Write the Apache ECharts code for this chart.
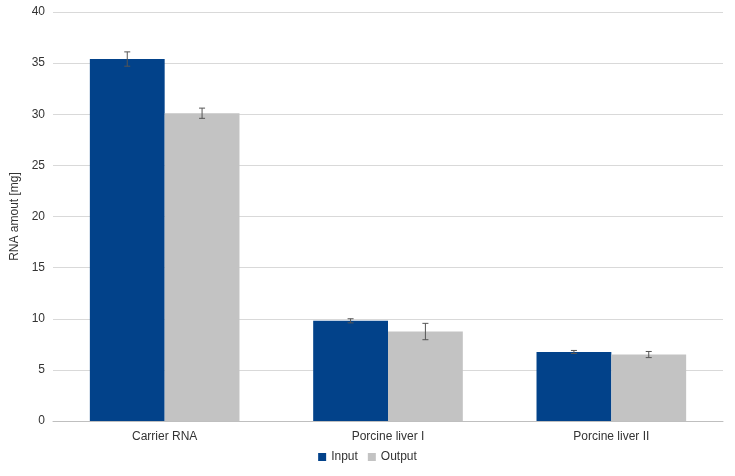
<!DOCTYPE html>
<html>
<head>
<meta charset="utf-8">
<script src="https://cdn.jsdelivr.net/npm/echarts@6/dist/echarts.min.js"></script>
<style>
    html,body{margin:0;padding:0;background:#fff;}
    #chart{width:735px;height:476px;}
</style>
</head>
<body>
<div id="chart"></div>
<script>
    var categories = ['Carrier RNA', 'Porcine liver I', 'Porcine liver II'];
    var input_values = [35.4, 9.8, 6.75];
    var output_values = [30.1, 8.75, 6.5];
    var input_err = [0.7, 0.2, 0.15];
    var output_err = [0.5, 0.8, 0.3];
    var colors = ['#02428a', '#c3c3c3'];
    var cat_gap = 0.33;

    function error_series(values, errs, side) {//side: -1 left bar, 1 right bar
        var data = values.map(function (v, i) { return [i, v - errs[i], v + errs[i]]; });
        return {
            type: 'custom',
            silent: true,
            z: 10,
            data: data,
            renderItem: function (params, api) {
                var bw = api.size([1, 0])[0] * (1 - cat_gap) / 2;
                var lo = api.coord([api.value(0), api.value(1)]);
                var hi = api.coord([api.value(0), api.value(2)]);
                var x = lo[0] + side * bw / 2;
                var style = { stroke: '#555', lineWidth: 1 };
                return {
                    type: 'group',
                    children: [
                        { type: 'line', shape: { x1: x, y1: lo[1], x2: x, y2: hi[1] }, style: style },
                        { type: 'line', shape: { x1: x - 3, y1: lo[1], x2: x + 3, y2: lo[1] }, style: style },
                        { type: 'line', shape: { x1: x - 3, y1: hi[1], x2: x + 3, y2: hi[1] }, style: style }
                    ]
                };
            }
        };
    }

    var chart = echarts.init(document.getElementById('chart'));
    chart.setOption({
        textStyle: { fontFamily: 'Liberation Sans, Arial, sans-serif' },
        color: colors,
        grid: { left: 53, right: 12, top: 12, bottom: 55 },
        legend: {
            bottom: 8,
            left: 'center',
            itemWidth: 8,
            itemHeight: 8,
            itemGap: 10,
            icon: 'rect',
            textStyle: { color: '#333', fontSize: 12 },
            data: ['Input', 'Output']
        },
        xAxis: {
            type: 'category',
            data: categories,
            axisTick: { show: false },
            axisLine: { lineStyle: { color: '#bfbfbf' } },
            axisLabel: { color: '#333', fontSize: 12, margin: 10 }
        },
        yAxis: {
            type: 'value',
            min: 0, max: 40, interval: 5,
            name: 'RNA amout [mg]',
            nameLocation: 'middle',
            nameRotate: 90,
            nameGap: 30,
            nameTextStyle: { color: '#333', fontSize: 12 },
            axisLabel: { color: '#333', fontSize: 12 },
            splitLine: { lineStyle: { color: '#d9d9d9' } },
            axisLine: { show: false },
            axisTick: { show: false }
        },
        series: [
            { name: 'Input', type: 'bar', data: input_values, barGap: '0%', barCategoryGap: '33%' },
            { name: 'Output', type: 'bar', data: output_values },
            error_series(input_values, input_err, -1),
            error_series(output_values, output_err, 1)
        ]
    });
</script>
</body>
</html>
